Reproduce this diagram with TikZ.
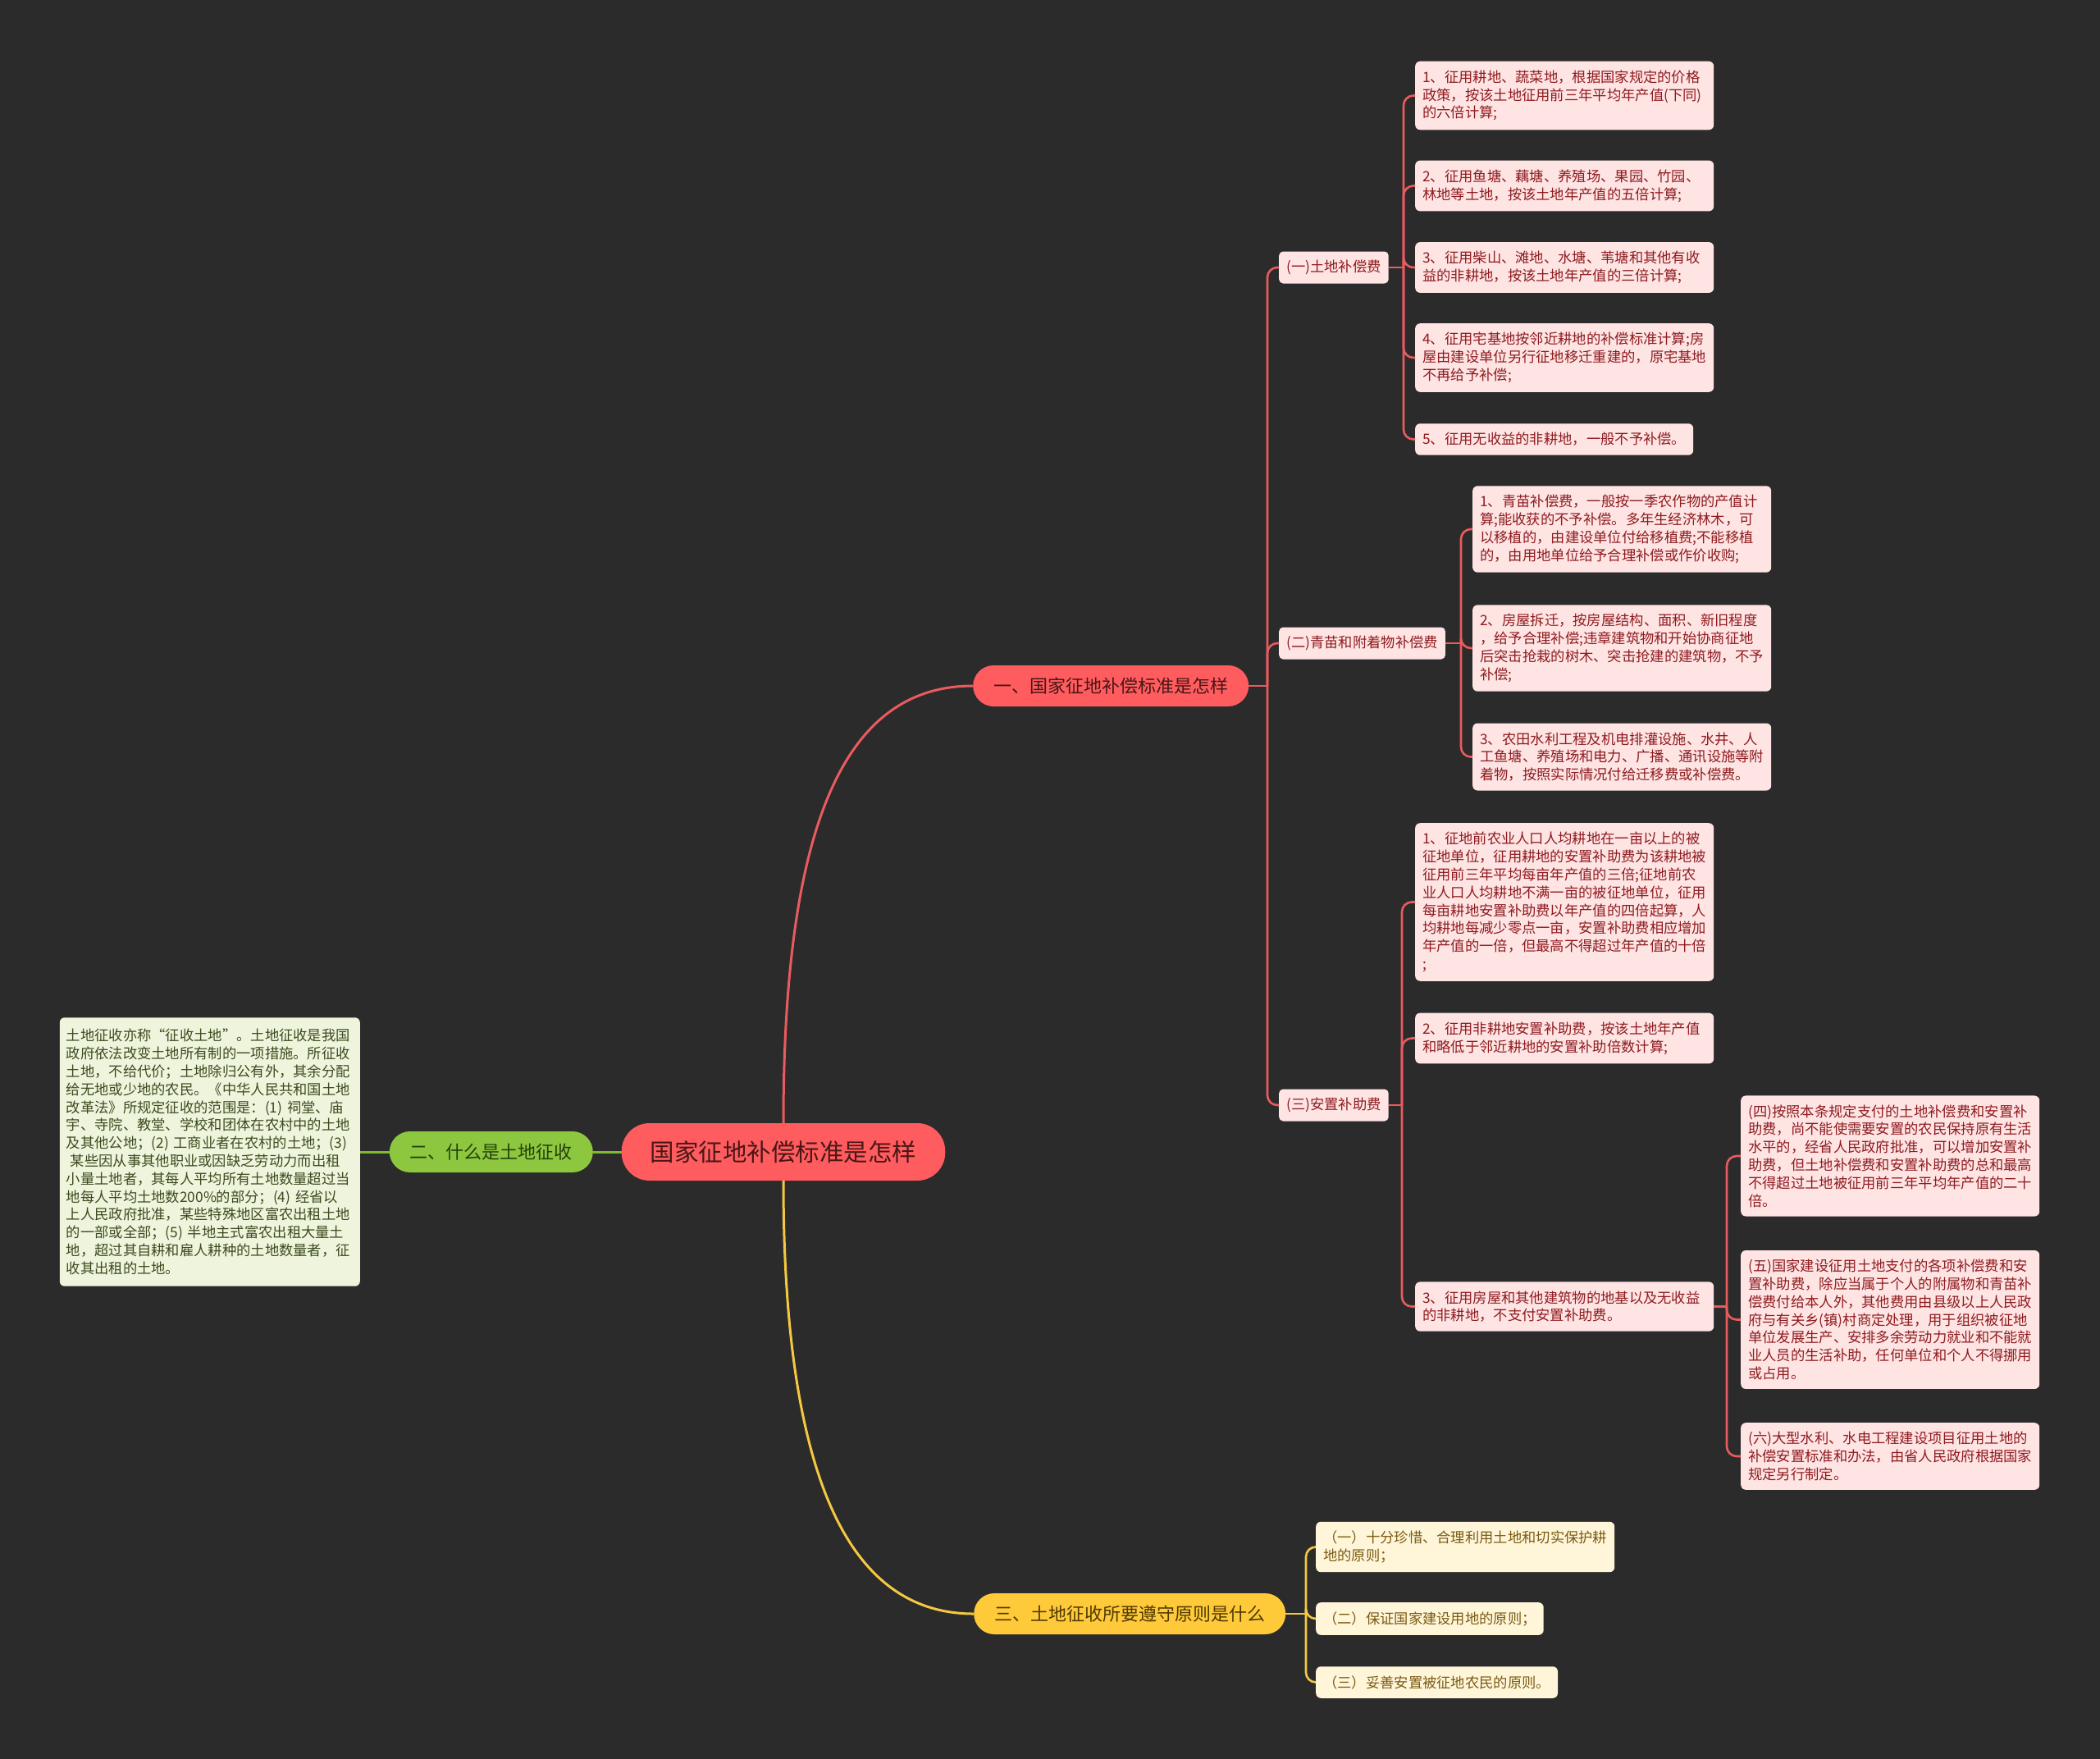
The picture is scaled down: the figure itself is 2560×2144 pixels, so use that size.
\documentclass[tikz,border=0pt]{standalone}
\usepackage{fontspec}
\setmainfont{Noto Sans CJK SC}
\usetikzlibrary{calc}
\definecolor{bg}{HTML}{2B2B2B}
\definecolor{redfill}{HTML}{FF5C5F}
\definecolor{redline}{HTML}{E95B5E}
\definecolor{pinkfill}{HTML}{FFE4E4}
\definecolor{redtext}{HTML}{8E1B1F}
\definecolor{roottext}{HTML}{4A1616}
\definecolor{greenfill}{HTML}{8DC73F}
\definecolor{greenline}{HTML}{7DBA2E}
\definecolor{greentext}{HTML}{24400A}
\definecolor{paleg}{HTML}{EEF5DC}
\definecolor{paletext}{HTML}{3C4A1F}
\definecolor{yfill}{HTML}{FFCA3A}
\definecolor{yline}{HTML}{F4C842}
\definecolor{ytext}{HTML}{4E3A00}
\definecolor{ypale}{HTML}{FFF6DA}
\definecolor{ypaletext}{HTML}{7A5A12}
\newcommand{\fsA}{\fontsize{17.3pt}{21.8pt}\selectfont}
\newcommand{\fsB}{\fontsize{22pt}{26pt}\selectfont}
\newcommand{\fsC}{\fontsize{29.5pt}{34pt}\selectfont}
\tikzset{
  rootn/.style={fill=redfill, text=roottext, rounded corners=34pt, minimum height=70pt, inner xsep=35pt, font=\fsC},
  pillr/.style={fill=redfill, text=roottext, rounded corners=25pt, minimum height=50pt, inner xsep=25pt, font=\fsB, anchor=west},
  pillg/.style={fill=greenfill, text=greentext, rounded corners=25pt, minimum height=50pt, inner xsep=25pt, font=\fsB, anchor=east},
  pilly/.style={fill=yfill, text=ytext, rounded corners=25pt, minimum height=50pt, inner xsep=25pt, font=\fsB, anchor=west},
  lab/.style={fill=pinkfill, text=redtext, rounded corners=5pt, minimum height=39pt, inner xsep=9pt, font=\fsA, anchor=west},
  leafr/.style={fill=pinkfill, text=redtext, rounded corners=6pt, inner xsep=9pt, inner ysep=11pt, font=\fsA, anchor=west, align=left},
  wleafr/.style={leafr, text width=346pt},
  leafy/.style={fill=ypale, text=ypaletext, rounded corners=6pt, inner xsep=9pt, inner ysep=11pt, font=\fsA, anchor=west, align=left},
  wleafy/.style={leafy, text width=346pt},
  leftbox/.style={fill=paleg, text=paletext, rounded corners=6pt, inner xsep=8pt, inner ysep=14pt, font=\fsA, anchor=east, align=left, text width=350pt},
  rl/.style={draw=redline, line width=2.6pt},
  gl/.style={draw=greenline, line width=3pt},
  yl/.style={draw=yline, line width=2.6pt},
}
\begin{document}
\begin{tikzpicture}[x=1pt,y=-1pt]
\fill[bg] (0,0) rectangle (2560,2144);
\useasboundingbox (0,0) rectangle (2560,2144);

% main nodes
\node[rootn] (root) at (955,1404) {国家征地补偿标准是怎样};
\node[pillr] (b1) at (1186,836) {一、国家征地补偿标准是怎样};
\node[pillg] (g) at (723,1404) {二、什么是土地征收};
\node[pilly] (b3) at (1187,1967) {三、土地征收所要遵守原则是什么};

\node[leftbox] (lt) at (439,1404) {土地征收亦称“征收土地”。土地征收是我国\\
政府依法改变土地所有制的一项措施。所征收\\
土地，不给代价；土地除归公有外，其余分配\\
给无地或少地的农民。《中华人民共和国土地\\
改革法》所规定征收的范围是：(1) 祠堂、庙\\
宇、寺院、教堂、学校和团体在农村中的土地\\
及其他公地；(2) 工商业者在农村的土地；(3)\\
\hspace*{0.3em}某些因从事其他职业或因缺乏劳动力而出租\\
小量土地者，其每人平均所有土地数量超过当\\
地每人平均土地数200\%的部分；(4) 经省以\\
上人民政府批准，某些特殊地区富农出租土地\\
的一部或全部；(5) 半地主式富农出租大量土\\
地，超过其自耕和雇人耕种的土地数量者，征\\
收其出租的土地。};

% level 2 labels
\node[lab] (s1) at (1559,326) {(一)土地补偿费};
\node[lab] (s2) at (1559,784) {(二)青苗和附着物补偿费};
\node[lab] (s3) at (1559,1347) {(三)安置补助费};

% leaves of s1
\node[wleafr] (l1) at (1725,116.5) {1、征用耕地、蔬菜地，根据国家规定的价格\\政策，按该土地征用前三年平均年产值(下同)\\的六倍计算;};
\node[wleafr] (l2) at (1725,226.5) {2、征用鱼塘、藕塘、养殖场、果园、竹园、\\林地等土地，按该土地年产值的五倍计算;};
\node[wleafr] (l3) at (1725,326) {3、征用柴山、滩地、水塘、苇塘和其他有收\\益的非耕地，按该土地年产值的三倍计算;};
\node[wleafr] (l4) at (1725,436) {4、征用宅基地按邻近耕地的补偿标准计算;房\\屋由建设单位另行征地移迁重建的，原宅基地\\不再给予补偿;};
\node[leafr] (l5) at (1725,535.5) {5、征用无收益的非耕地，一般不予补偿。};

% leaves of s2
\node[wleafr] (q1) at (1795,645) {1、青苗补偿费，一般按一季农作物的产值计\\算;能收获的不予补偿。多年生经济林木，可\\以移植的，由建设单位付给移植费;不能移植\\的，由用地单位给予合理补偿或作价收购;};
\node[wleafr] (q2) at (1795,790) {2、房屋拆迁，按房屋结构、面积、新旧程度\\，给予合理补偿;违章建筑物和开始协商征地\\后突击抢栽的树木、突击抢建的建筑物，不予\\补偿;};
\node[wleafr] (q3) at (1795,922.5) {3、农田水利工程及机电排灌设施、水井、人\\工鱼塘、养殖场和电力、广播、通讯设施等附\\着物，按照实际情况付给迁移费或补偿费。};

% leaves of s3
\node[wleafr] (a1) at (1725,1099.5) {1、征地前农业人口人均耕地在一亩以上的被\\征地单位，征用耕地的安置补助费为该耕地被\\征用前三年平均每亩年产值的三倍;征地前农\\业人口人均耕地不满一亩的被征地单位，征用\\每亩耕地安置补助费以年产值的四倍起算，人\\均耕地每减少零点一亩，安置补助费相应增加\\年产值的一倍，但最高不得超过年产值的十倍\\;};
\node[wleafr] (a2) at (1725,1265.5) {2、征用非耕地安置补助费，按该土地年产值\\和略低于邻近耕地的安置补助倍数计算;};
\node[wleafr] (a3) at (1725,1592.5) {3、征用房屋和其他建筑物的地基以及无收益\\的非耕地，不支付安置补助费。};

% leaves of a3
\node[wleafr] (f4) at (2122,1409) {(四)按照本条规定支付的土地补偿费和安置补\\助费，尚不能使需要安置的农民保持原有生活\\水平的，经省人民政府批准，可以增加安置补\\助费，但土地补偿费和安置补助费的总和最高\\不得超过土地被征用前三年平均年产值的二十\\倍。};
\node[wleafr] (f5) at (2122,1608.5) {(五)国家建设征用土地支付的各项补偿费和安\\置补助费，除应当属于个人的附属物和青苗补\\偿费付给本人外，其他费用由县级以上人民政\\府与有关乡(镇)村商定处理，用于组织被征地\\单位发展生产、安排多余劳动力就业和不能就\\业人员的生活补助，任何单位和个人不得挪用\\或占用。};
\node[wleafr] (f6) at (2122,1775) {(六)大型水利、水电工程建设项目征用土地的\\补偿安置标准和办法，由省人民政府根据国家\\规定另行制定。};

% yellow leaves
\node[wleafy] (y1) at (1604,1885.5) {（一）十分珍惜、合理利用土地和切实保护耕\\地的原则；};
\node[leafy] (y2) at (1604,1973) {（二）保证国家建设用地的原则；};
\node[leafy] (y3) at (1604,2050.5) {（三）妥善安置被征地农民的原则。};

% main connectors
\draw[rl, line width=3pt] (root.north) .. controls ($(root.north)+(0,-370)$) and ($(b1.west)+(-154,0)$) .. (b1.west);
\draw[yl, line width=3pt] (root.south) .. controls ($(root.south)+(0,358)$) and ($(b3.west)+(-154,0)$) .. (b3.west);
\draw[gl] (root.west) -- (g.east);
\draw[gl] (g.west) -- (lt.east);

% brackets
\coordinate (j1) at (1545,836);
\draw[rl] (b1.east) -- (j1);
\foreach \n in {s1,s2,s3} \draw[rl, rounded corners=12pt] (j1) |- (\n.west);

\coordinate (j2) at (1711,326);
\draw[rl] (s1.east) -- (j2);
\foreach \n in {l1,l2,l3,l4,l5} \draw[rl, rounded corners=12pt] (j2) |- (\n.west);

\coordinate (j3) at (1781,784);
\draw[rl] (s2.east) -- (j3);
\foreach \n in {q1,q2,q3} \draw[rl, rounded corners=12pt] (j3) |- (\n.west);

\coordinate (j4) at (1709,1347);
\draw[rl] (s3.east) -- (j4);
\foreach \n in {a1,a2,a3} \draw[rl, rounded corners=12pt] (j4) |- (\n.west);

\coordinate (j5) at (2105,1592.5);
\draw[rl] (a3.east) -- (j5);
\foreach \n in {f4,f5,f6} \draw[rl, rounded corners=12pt] (j5) |- (\n.west);

\coordinate (j6) at (1592,1967);
\draw[yl] (b3.east) -- (j6);
\foreach \n in {y1,y2,y3} \draw[yl, rounded corners=12pt] (j6) |- (\n.west);
\end{tikzpicture}
\end{document}
